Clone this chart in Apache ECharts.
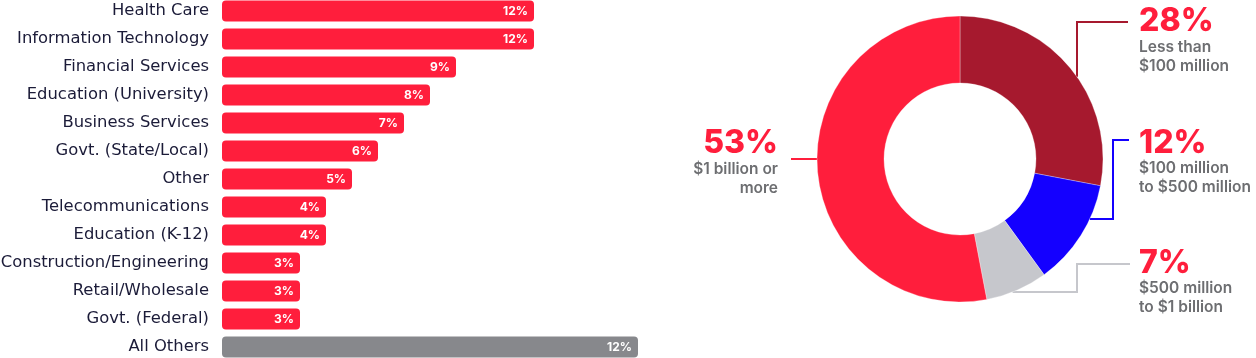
<!DOCTYPE html>
<html>
<head>
<meta charset="utf-8">
<script src="https://cdn.jsdelivr.net/npm/echarts@6/dist/echarts.min.js"></script>
<style>
html,body{margin:0;padding:0;background:#fff;}
#chart{width:1256px;height:358px;}
</style>
</head>
<body>
<div id="chart"></div>
<script>
// ---- data ----
const industries = ['Health Care','Information Technology','Financial Services','Education (University)','Business Services','Govt. (State/Local)','Other','Telecommunications','Education (K-12)','Construction/Engineering','Retail/Wholesale','Govt. (Federal)','All Others'];
const industryShares = [12,12,9,8,7,6,5,4,4,3,3,3,12];
const revenueBands = ['Less than\n$100 million','$100 million\nto $500 million','$500 million\nto $1 billion','$1 billion or\nmore'];
const revenueShares = [28,12,7,53];

// ---- style ----
const RED = '#ff1e3c', DARKRED = '#a6192e', BLUE = '#1400ff', LGRAY = '#c6c7cc', BARGRAY = '#87888c';
const NAVY = '#1b1b38', TXTGRAY = '#6d6e71';
const FONT = 'Inter, "Open Sans", sans-serif';
const CATFONT = '"DejaVu Sans", sans-serif';
const sliceColors = [DARKRED, BLUE, LGRAY, RED];
const cx = 960, cy = 159, R = 143, r = 76;

const nMain = industries.length - 1;
const redData = industryShares.map((v,i)=> i < nMain ? v : '-');
const grayData = industryShares.map((v,i)=> i === nMain ? v : '-');

function edgeY(x, below){ const dx = x - cx; const d = Math.sqrt(R*R - dx*dx); return below ? cy + d : cy - d; }
function edgeX(y, left){ const dy = y - cy; const d = Math.sqrt(R*R - dy*dy); return left ? cx - d : cx + d; }

// label boxes and leader lines (annotation layout)
const labelPlacement = [
  {x: 1139, y: 5.5, align: 'left', line: () => { const lx = cx+117, ty = 22; return [[lx, edgeY(lx,false)],[lx,ty],[1128,ty]]; }},
  {x: 1139, y: 127, align: 'left', line: () => { const by = 219, vx = 1113, ty = 140; return [[edgeX(by,false),by],[vx,by],[vx,ty],[1129,ty]]; }},
  {x: 1139, y: 247, align: 'left', line: () => { const by = 292, vx = 1077, ty = 264; return [[edgeX(by,false),by],[vx,by],[vx,ty],[1130,ty]]; }},
  {x: 778, y: 127.5, align: 'right', line: () => { const y = 159; return [[edgeX(y,true),y],[804,y],[791,y]]; }}
];

const chart = echarts.init(document.getElementById('chart'));
chart.setOption({
  animation: false,
  grid: {left: 222, top: -3, width: 416, bottom: -3, containLabel: false, outerBoundsMode: 'none'},
  xAxis: [
    {type: 'value', min: 0, max: 16, show: false},
    {type: 'value', min: 0, max: 12, show: false}
  ],
  yAxis: {
    type: 'category', data: industries, inverse: true,
    axisLine: {show: false}, axisTick: {show: false}, splitLine: {show: false},
    axisLabel: {color: NAVY, fontSize: 16.4, fontFamily: CATFONT, margin: 13}
  },
  series: [
    {
      type: 'bar', xAxisIndex: 0, data: redData, barWidth: 21, barGap: '-100%',
      itemStyle: {color: RED, borderRadius: 4},
      label: {show: true, position: 'insideRight', distance: 6, color: '#fff', fontSize: 12, fontWeight: 'bold', fontFamily: FONT, formatter: p => p.value + '%'}
    },
    {
      type: 'bar', xAxisIndex: 1, data: grayData, barWidth: 21, barGap: '-100%',
      itemStyle: {color: BARGRAY, borderRadius: 4},
      label: {show: true, position: 'insideRight', distance: 6, color: '#fff', fontSize: 12, fontWeight: 'bold', fontFamily: FONT, formatter: p => p.value + '%'}
    },
    {
      type: 'pie', center: [cx, cy], radius: [r, R], startAngle: 90, clockwise: true,
      avoidLabelOverlap: false,
      data: revenueShares.map((v,i)=>({value: v, name: revenueBands[i], itemStyle: {color: sliceColors[i]}})),
      itemStyle: {borderColor: 'rgba(255,255,255,0.6)', borderWidth: 0.5},
      label: {
        show: true, position: 'outside',
        formatter: p => '{big|' + revenueShares[p.dataIndex] + '%}\n' + revenueBands[p.dataIndex].split('\n').map(s => '{sub|' + s + '}').join('\n'),
        rich: {
          big: {fontSize: 32, lineHeight: 32, fontWeight: 800, color: RED, fontFamily: FONT},
          sub: {fontSize: 15.5, lineHeight: 19, fontWeight: 600, color: TXTGRAY, fontFamily: FONT}
        }
      },
      labelLine: {show: true, lineStyle: {width: 2}},
      labelLayout: function (params) {
        const pl = labelPlacement[params.dataIndex];
        return {x: pl.x, y: pl.y, align: pl.align, verticalAlign: 'top', labelLinePoints: pl.line()};
      },
      emphasis: {disabled: true}
    }
  ]
});
</script>
</body>
</html>
